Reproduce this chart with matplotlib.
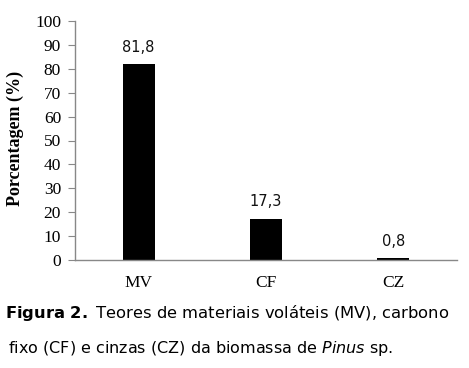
import matplotlib
matplotlib.use("Agg")
import matplotlib.pyplot as plt

categories = ["MV", "CF", "CZ"]
values = [81.8, 17.3, 0.8]
value_labels = ["81,8", "17,3", "0,8"]
yticks = list(range(0, 101, 10))

W, H = 469, 368
fig = plt.figure(figsize=(W / 100, H / 100), dpi=100)
ax = fig.add_axes([75 / W, 1 - 260 / H, (457 - 75) / W, (260 - 21) / H])

x = range(len(categories))
ax.bar(x, values, width=0.25, color="black")
for xi, v, lab in zip(x, values, value_labels):
    ax.text(xi, v + 4, lab, ha="center", va="bottom", fontsize=10.5,
            family="DejaVu Sans", color="#111111")

ax.set_xlim(-0.5, 2.5)
ax.set_ylim(0, 100)
ax.set_yticks(yticks)
ax.set_yticklabels([str(t) for t in yticks], family="Liberation Serif", fontsize=12.5)
ax.set_xticks(list(x))
ax.set_xticklabels(categories, family="Liberation Serif", fontsize=12.5)
ax.tick_params(axis="x", length=0, pad=11)
ax.tick_params(axis="y", length=5, color="#888888", pad=5)
for s in ["top", "right"]:
    ax.spines[s].set_visible(False)
for s in ["left", "bottom"]:
    ax.spines[s].set_color("#888888")
    ax.spines[s].set_linewidth(1)

fig.text(15 / W, 1 - 138 / H, "Porcentagem (%)", family="Liberation Serif",
         fontweight="bold", fontsize=13, rotation=90, ha="center", va="center")

fig.text(5 / W, 1 - 313 / H,
         r"$\bf{Figura\ 2.}$ Teores de materiais voláteis (MV), carbono",
         fontsize=11.8, va="center", family="DejaVu Sans")
fig.text(8 / W, 1 - 348 / H,
         r"fixo (CF) e cinzas (CZ) da biomassa de $\it{Pinus}$ sp.",
         fontsize=11.5, va="center", family="DejaVu Sans")

fig.savefig("out.png", dpi=100)
